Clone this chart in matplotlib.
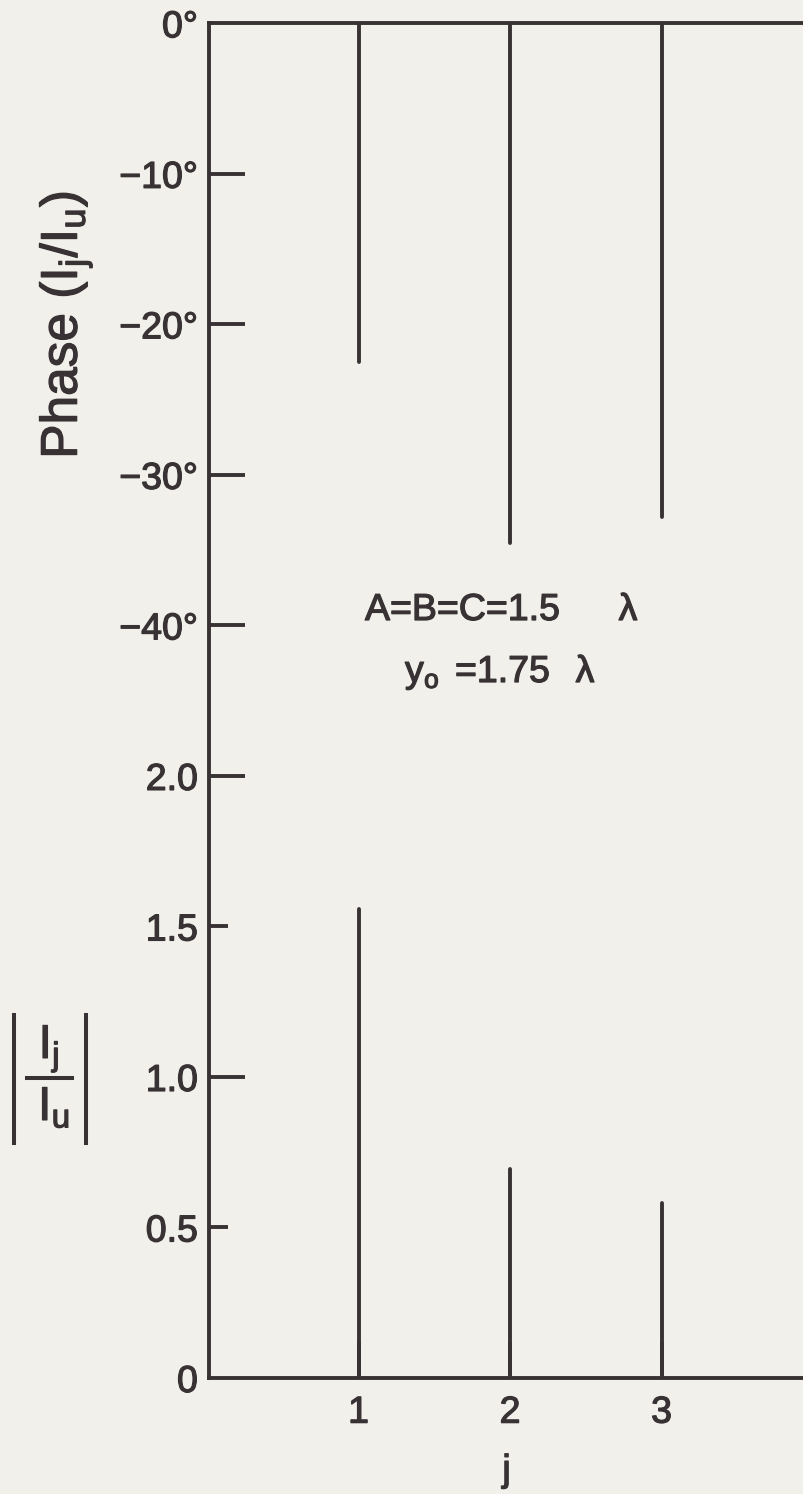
import matplotlib
matplotlib.use("Agg")
import matplotlib.pyplot as plt
from matplotlib.lines import Line2D
import matplotlib.patheffects as pe

# ---- data ----
j_values = [1, 2, 3]
phase_deg = [-22.5, -34.5, -32.8]        # phase of I_j/I_u (degrees)
magnitude = [1.557, 0.693, 0.581]        # |I_j/I_u|

phase_ticks = [0, -10, -20, -30, -40]
phase_tick_labels = ["0°", "−10°", "−20°", "−30°", "−40°"]
mag_ticks = [0, 0.5, 1.0, 1.5, 2.0]
mag_tick_labels = ["0", "0.5", "1.0", "1.5", "2.0"]
x_ticks = [1, 2, 3]
x_tick_labels = ["1", "2", "3"]

# combined axis: phase section stacked above magnitude section
PHASE_ZERO = 4.5      # axis position of 0 degrees
PHASE_SCALE = 0.05    # axis units per degree

def phase_to_axis(p):
    return PHASE_ZERO + PHASE_SCALE * p

FONT = "Liberation Sans"
plt.rcParams["font.family"] = [FONT, "DejaVu Sans"]
plt.rcParams["mathtext.fontset"] = "custom"
plt.rcParams["mathtext.rm"] = FONT
plt.rcParams["mathtext.it"] = FONT
plt.rcParams["mathtext.bf"] = FONT + ":bold"

BG = "#f1f0ea"
INK = "#383234"
THICK = [pe.withStroke(linewidth=0.9, foreground=INK)]

W, H = 804, 1494
fig = plt.figure(figsize=(W / 100, H / 100), dpi=100, facecolor=BG)
left_px, right_px, top_px, bot_px = 209, 804, 23.3, 1378
ax = fig.add_axes([left_px / W, 1 - bot_px / H, (right_px - left_px) / W, (bot_px - top_px) / H])
ax.set_facecolor(BG)

ax.set_xlim(0.013, 3.94)
ax.set_ylim(0, PHASE_ZERO)

lw = 2.8
for j, p in zip(j_values, phase_deg):
    ax.vlines(j, phase_to_axis(p), PHASE_ZERO, color=INK, lw=lw, capstyle="round")
for j, m in zip(j_values, magnitude):
    ax.vlines(j, 0, m, color=INK, lw=lw, capstyle="round")

for s in ["left", "top", "bottom"]:
    ax.spines[s].set_color(INK)
    ax.spines[s].set_linewidth(lw)
ax.spines["right"].set_visible(False)

yt = [phase_to_axis(p) for p in phase_ticks] + mag_ticks
yl = phase_tick_labels + mag_tick_labels
ax.set_yticks(yt)
ax.set_yticklabels(yl)
ax.tick_params(axis="y", direction="in", length=26, width=lw, color=INK,
               labelsize=27, labelcolor=INK, pad=8)
for tick, val in zip(ax.yaxis.get_major_ticks(), yt):
    if val in (0.5, 1.5):
        tick.tick1line.set_markersize(14)
    if val in (0, PHASE_ZERO):
        tick.tick1line.set_visible(False)

ax.set_xticks(x_ticks)
ax.set_xticklabels(x_tick_labels)
ax.tick_params(axis="x", direction="in", length=26, width=lw, color=INK,
               labelsize=27, labelcolor=INK, pad=12)
for lab in ax.get_xticklabels() + ax.get_yticklabels():
    lab.set_path_effects(THICK)

xl = ax.set_xlabel("j", fontsize=27, color=INK, labelpad=16)
xl.set_path_effects(THICK)


def ftext(xp, yp, s, **kw):
    t = fig.text(xp / W, 1 - yp / H, s, color=INK, **kw)
    t.set_path_effects(THICK)
    return t


def fline(x0, y0, x1, y1, w=2.9):
    fig.add_artist(Line2D([x0 / W, x1 / W], [1 - y0 / H, 1 - y1 / H],
                          transform=fig.transFigure, color=INK, lw=w))


# phase axis title
ftext(66, 325, r"Phase (I$_\mathrm{j}$/I$_\mathrm{u}$)", rotation=90,
      ha="center", va="center", fontsize=37)

# magnitude axis title |I_j / I_u|
fline(14, 1015, 14, 1143)
fline(86, 1015, 86, 1143)
fline(27, 1078, 72, 1078)
ftext(49, 1058, r"I$_\mathrm{j}$", ha="center", va="baseline", fontsize=34)
ftext(54, 1120, r"I$_\mathrm{u}$", ha="center", va="baseline", fontsize=34)

# annotation
ftext(365, 620, "A=B=C=1.5", ha="left", va="baseline", fontsize=27)
ftext(628, 620, "λ", ha="center", va="baseline", fontsize=27)
ftext(405, 682, r"y$_\mathrm{o}$", ha="left", va="baseline", fontsize=27)
ftext(455, 682, "=1.75", ha="left", va="baseline", fontsize=27)
ftext(585, 682, "λ", ha="center", va="baseline", fontsize=27)

fig.savefig("out.png", dpi=100, facecolor=BG)
